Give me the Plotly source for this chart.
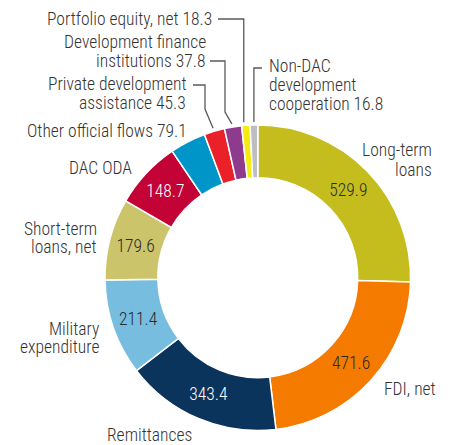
import math
import plotly.graph_objects as go

# ---- data ----
categories = ["Long-term loans", "FDI, net", "Remittances", "Military expenditure",
              "Short-term loans, net", "DAC ODA", "Other official flows",
              "Private development assistance", "Development finance institutions",
              "Portfolio equity, net", "Non-DAC development cooperation"]
values = [529.9, 471.6, 343.4, 211.4, 179.6, 148.7, 79.1, 45.3, 37.8, 18.3, 16.8]
colors = ["#C4BD1D", "#F47A00", "#0B345D", "#76BDDF", "#CCC46B", "#C30235",
          "#0095C9", "#EB2129", "#8E3B8D", "#F5EA12", "#BDBDC3"]
inside_shown = [True, True, True, True, True, True, False, False, False, False, False]
inside_colors = ["#2b2b2b", "#2b2b2b", "white", "#2b2b2b", "#2b2b2b", "white",
                 "white", "white", "white", "white", "white"]

# page body has an 8px margin; work in window pixels and convert
OFF = 8
W, H = 442, 437
CX, CY, R = 257.8, 277.7, 152.8
HOLE = 0.654
FONT = "Roboto Condensed, Roboto, sans-serif"
FS = 17.5
WEIGHT = 300
TXT = "#333333"


def px(x, y):
    return (x - OFF) / W, 1 - (y - OFF) / H


texts = [f"{v:.1f}" if s else "" for v, s in zip(values, inside_shown)]

x0, y0 = px(CX - R, CY + R)
x1, y1 = px(CX + R, CY - R)
fig = go.Figure(go.Pie(
    labels=categories, values=values, sort=False, direction="clockwise", rotation=0,
    hole=HOLE,
    marker=dict(colors=colors, line=dict(color="white", width=1.5)),
    text=texts, textinfo="text", textposition="inside",
    insidetextorientation="horizontal",
    insidetextfont=dict(family=FONT, size=FS, color=inside_colors, weight=WEIGHT),
    hoverinfo="label+value",
    domain=dict(x=[x0, x1], y=[y0, y1]),
    showlegend=False,
))

# slice mid-angles computed from the data
total = sum(values)
cum = 0
mids = []
for v in values:
    mids.append((cum + v / 2) / total * 2 * math.pi)
    cum += v


def edge(i, r=R + 1):
    a = mids[i]
    return CX + r * math.sin(a), CY - r * math.cos(a)


annotations = []


def label(lines, x, ys, xanchor):
    for text, y in zip(lines, ys):
        xp, yp = px(x, y)
        annotations.append(dict(text=text, x=xp, y=yp, xref="paper", yref="paper",
                                xanchor=xanchor, yanchor="middle", showarrow=False,
                                font=dict(family=FONT, size=FS, color=TXT, weight=WEIGHT)))


label(["Portfolio equity, net 18.3"], 214, [19], "right")
label(["Development finance", "institutions 37.8"], 208, [41.5, 61], "right")
label(["Private development", "assistance 45.3"], 188, [84, 103], "right")
label(["Non-DAC", "development", "cooperation 16.8"], 267, [66, 85, 104], "left")
label(["Other official flows 79.1"], 189, [131], "right")
label(["DAC ODA"], 134, [168], "right")
label(["Short-term", "loans, net"], 99, [228.5, 247], "right")
label(["Military", "expenditure"], 101, [328.5, 347], "right")
label(["Remittances"], 149.5, [435], "center")
label(["FDI, net"], 382, [389], "left")
label(["Long-term", "loans"], 434, [150, 169.5], "right")

shapes = []


def leader(points):
    path = "M " + " L ".join(f"{px(x, y)[0]:.5f},{px(x, y)[1]:.5f}" for x, y in points)
    shapes.append(dict(type="path", path=path, xref="paper", yref="paper",
                       line=dict(color="#5a5a5a", width=1.3)))


i_pf = categories.index("Portfolio equity, net")
i_nd = categories.index("Non-DAC development cooperation")
i_dfi = categories.index("Development finance institutions")
i_pda = categories.index("Private development assistance")

ex, ey = edge(i_pf)
leader([(218, 19), (ex - 2, 19), (ex - 2, ey - 2)])
ex, ey = edge(i_nd)
leader([(262, 68), (ex, 68), (ex, ey - 2)])
ex, ey = edge(i_dfi)
leader([(210, 61), (225, 61), (225, 112), (ex - 1, ey - 2)])
ex, ey = edge(i_pda)
leader([(193, 85), (205, 85), (205, 109), (ex - 1, ey - 2)])

fig.update_layout(
    width=W, height=H, margin=dict(l=0, r=0, t=0, b=0),
    paper_bgcolor="white", plot_bgcolor="white",
    annotations=annotations, shapes=shapes,
    uniformtext=dict(minsize=FS, mode="show"),
)

fig.write_html("out.html")
